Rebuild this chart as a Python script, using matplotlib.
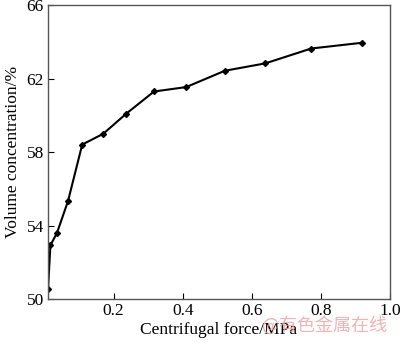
import matplotlib
matplotlib.use('Agg')
import matplotlib.pyplot as plt

force = [0.01, 0.017, 0.036, 0.068, 0.109, 0.17, 0.237, 0.317, 0.41, 0.522, 0.639, 0.772, 0.918]
conc = [50.53, 52.93, 53.6, 55.34, 58.41, 59.0, 60.1, 61.3, 61.54, 62.43, 62.83, 63.64, 63.95]
xticks = [0.2, 0.4, 0.6, 0.8, 1.0]
yticks = [50, 54, 58, 62, 66]

plt.rcParams['font.family'] = ['Liberation Serif', 'DejaVu Serif']

fig = plt.figure(figsize=(4.0, 3.43), dpi=100)
ax = fig.add_axes([0.12, 0.128, 0.855, 0.857])

ax.plot(force, conc, color='black', lw=1.5, marker='D', ms=3, mfc='black', mec='black')

ax.set_xlim(0.01, 1.0)
ax.set_ylim(50, 66)
ax.set_xticks(xticks)
ax.set_xticklabels(['0.2', '0.4', '0.6', '0.8', '1.0'])
ax.set_yticks(yticks)
ax.tick_params(direction='in', labelsize=12.5, length=4, width=0.8, pad=3)

for s in ax.spines.values():
    s.set_color('#555555')
    s.set_linewidth(1.0)

ax.set_xlabel('Centrifugal force/MPa', fontsize=12.5, labelpad=2)
ax.set_ylabel('Volume concentration/%', fontsize=12.5, labelpad=4)

fig.text(0.655, 0.035, '@有色金属在线', color='#f0a0a0', fontsize=13,
         family=['Noto Sans CJK SC', 'DejaVu Sans'], alpha=0.8)

fig.savefig('out.png', dpi=100)
